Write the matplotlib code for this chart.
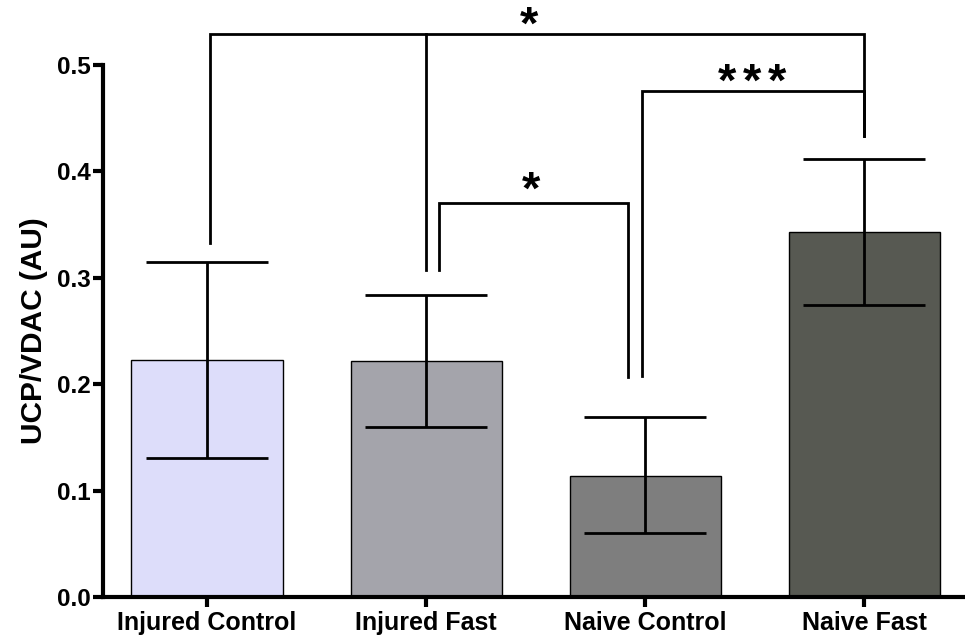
import matplotlib
matplotlib.use("Agg")
import matplotlib.pyplot as plt

categories = ["Injured Control", "Injured Fast", "Naive Control", "Naive Fast"]
means = [0.223, 0.222, 0.114, 0.343]
upper = [0.315, 0.284, 0.169, 0.412]
lower = [0.131, 0.160, 0.060, 0.274]
colors = ["#DDDDFA", "#A4A4AB", "#7E7E7E", "#575952"]

# significance brackets: (x_left, x_right, y_bar, y_left_end, y_right_end, n_stars, star_x, star_y)
brackets = [
    (0.014, 3.0, 0.529, 0.333, 0.433, 1, 1.47, 0.544),
    (1.986, 3.0, 0.476, 0.208, 0.433, 3, 2.49, 0.491),
    (1.06, 1.92, 0.370, 0.307, 0.207, 1, 1.48, 0.389),
]
mid_leg = (1.0, 0.529, 0.307)

plt.rcParams['font.family'] = ['Liberation Sans', 'DejaVu Sans']
plt.rcParams['font.weight'] = 'bold'

fig = plt.figure(figsize=(9.65, 6.36), dpi=100)
ax = fig.add_axes([0.1067, 0.0613, 0.891, 0.8365])

x = list(range(len(categories)))
ax.bar(x, means, width=0.69, color=colors, edgecolor="black", linewidth=1.0, zorder=2)
yerr = [[m - l for m, l in zip(means, lower)], [u - m for m, u in zip(means, upper)]]
ax.errorbar(x, means, yerr=yerr, fmt="none", ecolor="black", elinewidth=2.0,
            capsize=44, capthick=2.0, zorder=3)

star_fs = 34
for xl, xr, yb, yl, yr, n, sx, sy in brackets:
    ax.plot([xl, xl, xr, xr], [yl, yb, yb, yr], color="black", lw=2.0,
            clip_on=False, solid_joinstyle="miter", zorder=4)
    for k in range(n):
        off = (k - (n - 1) / 2) * 18
        ax.annotate("*", xy=(sx, sy), xytext=(off, -0.44 * star_fs),
                    textcoords="offset points", ha="center", va="baseline",
                    fontsize=star_fs, fontweight="bold", annotation_clip=False)
ax.plot([mid_leg[0], mid_leg[0]], [mid_leg[2], mid_leg[1]], color="black", lw=2.0,
        clip_on=False, zorder=4)

ax.set_xlim(-0.475, 3.45)
ax.set_ylim(0, 0.5)
ax.set_yticks([0.0, 0.1, 0.2, 0.3, 0.4, 0.5])
ax.set_yticklabels(["0.0", "0.1", "0.2", "0.3", "0.4", "0.5"])
ax.set_xticks(x)
ax.set_xticklabels(categories)
ax.set_ylabel("UCP/VDAC (AU)", fontsize=21.5, fontweight="bold", labelpad=6)

for s in ["top", "right"]:
    ax.spines[s].set_visible(False)
for s in ["left", "bottom"]:
    ax.spines[s].set_linewidth(3)
ax.tick_params(axis="y", length=7, width=3, labelsize=17.5, pad=2)
ax.tick_params(axis="x", length=7, width=3, labelsize=18, pad=3)
for lab in ax.get_xticklabels() + ax.get_yticklabels():
    lab.set_fontweight("bold")

fig.savefig("out.png", dpi=100)
